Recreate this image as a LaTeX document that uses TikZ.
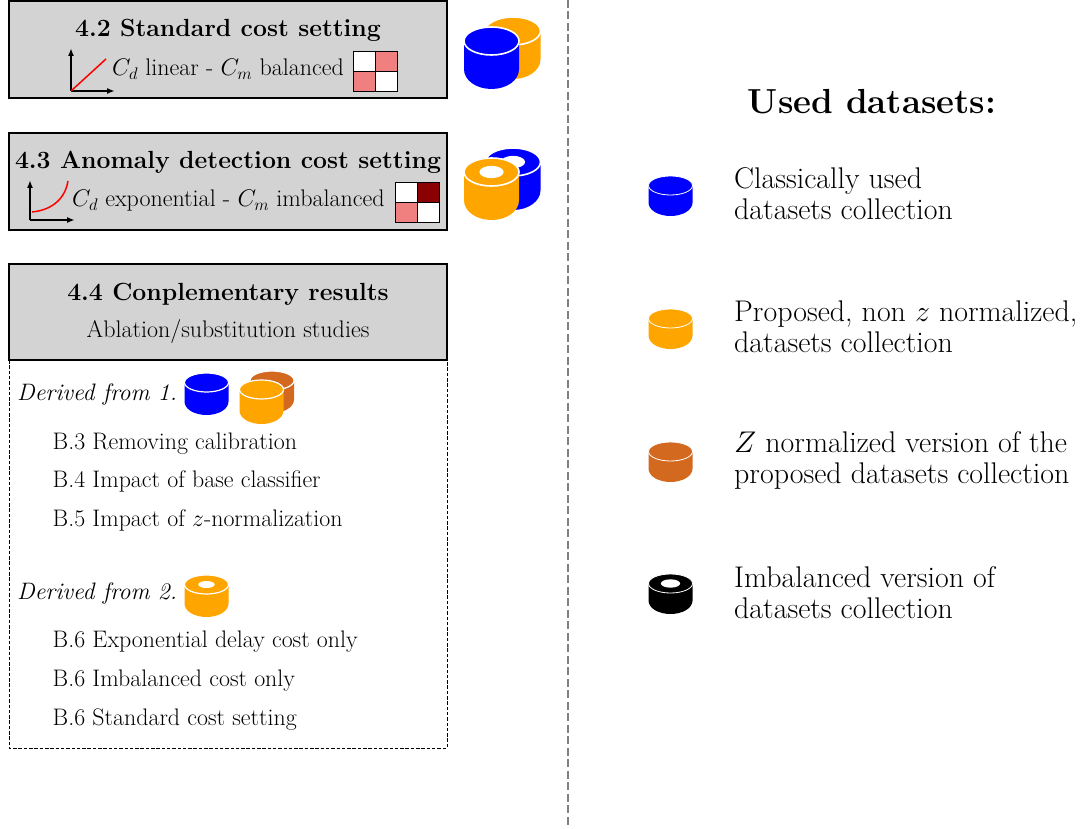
\RequirePackage{fix-cm}
\documentclass[tikz,border=0pt]{standalone}
\usepackage{amsmath}
\usetikzlibrary{arrows.meta}
\definecolor{dblue}{RGB}{0,0,255}
\definecolor{dorange}{RGB}{255,165,0}
\definecolor{dchoc}{RGB}{210,105,30}
\definecolor{lcoral}{RGB}{240,128,128}
\definecolor{dkred}{RGB}{139,0,0}
\definecolor{boxgray}{RGB}{211,211,211}
% cx, top y, rx, ry, total height, colour, hole scale, white line width
\newcommand{\dbcyl}[8]{%
  \fill[#6]
    (#1-#3,#2+#4) arc[start angle=180,end angle=0,x radius=#3,y radius=-#4]
    -- (#1+#3,#2+#5-1.4*#4) arc[start angle=0,end angle=-180,x radius=#3,y radius=-1.4*#4] -- cycle;
  \draw[white,line width=#8] (#1,#2+#4) ellipse[x radius=#3,y radius=#4];
  \ifdim #7pt>0pt
    \fill[white] (#1,#2+#4) ellipse[x radius=#7*#3,y radius=#7*#4];
  \fi
}
\newcommand{\costmat}[3]{% x0,y0,colour of the upper right cell
  \fill[white] (#1,#2) rectangle ++(44,40);
  \fill[#3] (#1+22,#2) rectangle ++(22,20);
  \fill[lcoral] (#1,#2+20) rectangle ++(22,20);
  \draw[line width=0.8] (#1,#2) rectangle ++(44,40);
  \draw[line width=0.8] (#1+22,#2) -- ++(0,40) (#1,#2+20) -- ++(44,0);
}
\tikzset{
  x=1pt,y=-1pt,
  headbox/.style={draw=black,fill=boxgray,line width=1.5},
  axisarrow/.style={-{Latex[length=8pt,width=6pt]},line width=1.7},
  boxtitle/.style={font=\fontsize{24.8}{29}\selectfont\bfseries,inner sep=0pt,anchor=base},
  boxsub/.style={font=\fontsize{24}{28}\selectfont,inner sep=0pt,anchor=base},
  itemtext/.style={font=\fontsize{23.9}{28}\selectfont,inner sep=0pt,anchor=base west},
  derivedtext/.style={font=\fontsize{23.8}{28}\selectfont\itshape,inner sep=0pt,anchor=base west},
  legendtext/.style={font=\fontsize{29.9}{31}\selectfont,inner sep=0pt,anchor=west,align=left},
}
\begin{document}
\begin{tikzpicture}
\useasboundingbox (0,0) rectangle (1081,829);
\draw[gray,dash pattern=on 8pt off 3.5pt,line width=1.8] (568,0) -- (568,826);
% dashed box
\draw[dash pattern=on 3.5pt off 1.8pt,line width=0.7] (9,360) rectangle (447,748);
% heading boxes
\draw[headbox] (9,1) rectangle (447,98);
\draw[headbox] (9,133) rectangle (447,230);
\draw[headbox] (9,264) rectangle (447,360);
\node[boxtitle] (t42) at (228,37) {4.2 Standard cost setting};
\node[boxsub,anchor=base west] (s42) at (112,76) {$C_d$ linear - $C_m$ balanced};
\node[boxtitle] (t43) at (228,169) {4.3 Anomaly detection cost setting};
\node[boxsub,anchor=base west] (s43) at (72,207) {$C_d$ exponential - $C_m$ imbalanced};
\node[boxtitle] (t44) at (228,300) {4.4 Conplementary results};
\node[boxsub] (s44) at (228,337) {Ablation/substitution studies};
% axes
\coordinate (o1) at (71,91); \coordinate (o2) at (30,220);
\draw[axisarrow] (o1) -- (71,48);
\draw[axisarrow] (o1) -- (115,91);
\draw[red,line width=1.5] (o1) -- (106,59);
\draw[axisarrow] (o2) -- (30,180);
\draw[axisarrow] (o2) -- (75,220);
\draw[red,line width=1.5] (32,212) .. controls (52,210) and (65,199) .. (68,181);
\costmat{353}{51}{lcoral}
\costmat{395}{182}{dkred}
% big cylinders
\dbcyl{513}{17}{27.5}{14}{62}{dorange}{0}{1.6}
\dbcyl{491.5}{27}{27.5}{14}{62}{dblue}{0}{1.6}
\dbcyl{513}{148}{27.5}{14}{62}{dblue}{0.44}{1.6}
\dbcyl{491.5}{158}{27.5}{14}{62}{dorange}{0.44}{1.6}
% items
\node[derivedtext] (d1) at (17,400) {Derived from 1.};
\dbcyl{206.5}{373}{22}{9.5}{42}{dblue}{0}{1.2}
\dbcyl{272}{371}{22}{9.5}{42}{dchoc}{0}{1.2}
\dbcyl{261.5}{380}{22}{9.5}{44}{dorange}{0}{1.2}
\node[itemtext] (b3) at (52.5,449) {B.3 Removing calibration};
\node[itemtext] (b4) at (52.5,487) {B.4 Impact of base classifier};
\node[itemtext] (b5) at (52.5,526) {B.5 Impact of $z$-normalization};
\node[derivedtext] (d2) at (17,599) {Derived from 2.};
\dbcyl{206.5}{575}{22}{9.5}{42}{dorange}{0.37}{1.2}
\node[itemtext] (b6a) at (52.5,647) {B.6 Exponential delay cost only};
\node[itemtext] (b6b) at (52.5,686) {B.6 Imbalanced cost only};
\node[itemtext] (b6c) at (52.5,725) {B.6 Standard cost setting};
% legend
\node[inner sep=0pt,anchor=base,font=\fontsize{34.8}{40}\selectfont\bfseries] (leg) at (872,114) {Used datasets:};
\dbcyl{670.5}{176}{22}{9.5}{40}{dblue}{0}{0.8}
\node[legendtext] (l1) at (734,194) {Classically used\\datasets collection};
\dbcyl{670.5}{309}{22}{9.5}{40}{dorange}{0}{0.8}
\node[legendtext] (l2) at (734,327) {Proposed, non $z$ normalized,\\datasets collection};
\dbcyl{670.5}{442}{22}{9.5}{40}{dchoc}{0}{0.8}
\node[legendtext] (l3) at (734,460) {$Z$ normalized version of the\\proposed datasets collection};
\dbcyl{670.5}{574}{22}{9.5}{40}{black}{0.44}{0.8}
\node[legendtext] (l4) at (734,593) {Imbalanced version of\\datasets collection};
\end{tikzpicture}
\end{document}
